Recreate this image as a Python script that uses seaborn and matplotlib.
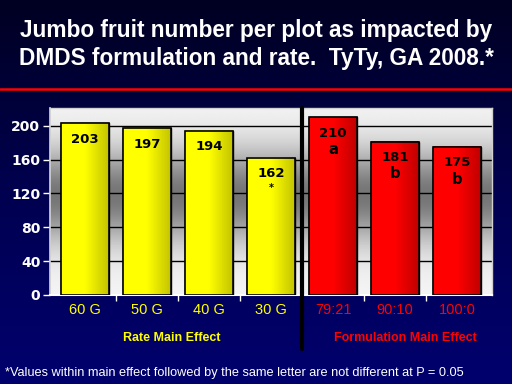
import numpy as np
import pandas as pd
import matplotlib
matplotlib.use("Agg")
import matplotlib.pyplot as plt
from matplotlib.colors import LinearSegmentedColormap
import seaborn as sns

# ---- data ----
categories = ["60 G", "50 G", "40 G", "30 G", "79:21", "90:10", "100:0"]
values = [203, 197, 194, 162, 210, 181, 175]
groups = ["Rate", "Rate", "Rate", "Rate", "Formulation", "Formulation", "Formulation"]
letters = ["", "", "", "*", "a", "b", "b"]
yticks = [0, 40, 80, 120, 160, 200]
title_lines = ["Jumbo fruit number per plot as impacted by",
               "DMDS formulation and rate.  TyTy, GA 2008.*"]
group_labels = ["Rate Main Effect", "Formulation Main Effect"]
footnote = "*Values within main effect followed by the same letter are not different at P = 0.05"

df = pd.DataFrame({"category": categories, "value": values, "group": groups})

sns.set_theme(style="white")
plt.rcParams["font.family"] = ["Liberation Sans", "DejaVu Sans"]

group_colors = {"Rate": "#FFFF00", "Formulation": "#FF0000"}
group_dark = {"Rate": "#C4C400", "Formulation": "#C00000"}

fig = plt.figure(figsize=(5.12, 3.84), dpi=100)

# figure background gradient
bg = fig.add_axes([0, 0, 1, 1], zorder=-10)
grad = np.linspace(0, 1, 256).reshape(-1, 1)
bg_cmap = LinearSegmentedColormap.from_list("bg", ["#000022", "#000050", "#00006E"])
bg.imshow(grad, aspect="auto", cmap=bg_cmap, extent=(0, 1, 0, 1), origin="upper")
bg.set_axis_off()
bg.plot([0, 1], [1 - 89 / 384, 1 - 89 / 384], color="#FF0000", lw=1.8)
bg.set_xlim(0, 1)
bg.set_ylim(0, 1)

ax = fig.add_axes([50 / 512, 1 - 295 / 384, 442 / 512, 187 / 384])
ymax = 221

# plot area gradient (light - grey - light)
yy = np.linspace(0, ymax, 300)
prof = 0.96 - 0.50 * np.exp(-((yy - 118) / 55) ** 2)
ax.imshow(prof.reshape(-1, 1), aspect="auto", cmap="gray", vmin=0, vmax=1,
          extent=(0, 1, 0, 1), origin="lower", transform=ax.transAxes, zorder=0)

for t in yticks[1:]:
    ax.axhline(t, color="black", lw=1, zorder=1)

sns.barplot(data=df, x="category", y="value", hue="group", palette=group_colors,
            dodge=False, width=0.77, edgecolor="black", linewidth=1,
            legend=False, ax=ax, zorder=3)

# 3D-ish shading on each bar
for p, g in zip(ax.patches, groups):
    x, w, h = p.get_x(), p.get_width(), p.get_height()
    cmap = LinearSegmentedColormap.from_list(
        "b", [group_colors[g], group_colors[g], group_dark[g]])
    ax.imshow(np.linspace(0, 1, 64).reshape(1, -1), aspect="auto", cmap=cmap,
              extent=(x, x + w, 0, h), zorder=3.5)
    ax.add_patch(plt.Rectangle((x, 0), w, h, fill=False, edgecolor="black",
                               lw=1.2, zorder=4))

ax.set_xlim(-0.56, len(categories) - 0.44)
ax.set_ylim(0, ymax)

# value labels and letters
for i, (v, l) in enumerate(zip(values, letters)):
    ax.text(i, v - 19, str(v), ha="center", va="center", color="black",
            fontsize=9.5, fontweight="bold", family="DejaVu Sans", zorder=5)
    if l:
        ax.text(i, v - 38 if l != "*" else v - 36, l, ha="center", va="center",
                color="black", fontsize=10.5 if l != "*" else 7,
                fontweight="bold", family="DejaVu Sans", zorder=5)

# axes styling
ax.set_xlabel("")
ax.set_ylabel("")
ax.set_yticks(yticks)
ax.set_yticklabels([str(t) for t in yticks], color="white", fontsize=10,
                   fontweight="bold", family="DejaVu Sans")
ax.tick_params(axis="y", length=5, color="white", width=1, pad=2, left=True)
ax.set_xticks(range(len(categories)))
ax.set_xticklabels(categories, fontsize=10.5)
for lab, g in zip(ax.get_xticklabels(), groups):
    lab.set_color(group_colors[g])
ax.tick_params(axis="x", length=0, pad=6)
ax.set_xticks(np.arange(len(categories) - 1) + 0.5, minor=True)
ax.tick_params(axis="x", which="minor", length=4, color="white", width=1,
               bottom=True)

for s in ["top", "right"]:
    ax.spines[s].set_color("#D0D0D0")
    ax.spines[s].set_linewidth(1)
ax.spines["left"].set_color("#D0D0D0")
ax.spines["bottom"].set_color("white")
ax.spines["bottom"].set_linewidth(1.5)

# divider line between the two groups
div_x = (len([g for g in groups if g == "Rate"]) - 0.5)
ax.plot([div_x, div_x], [1.0, -0.29], color="black", lw=3,
        transform=ax.get_xaxis_transform(), clip_on=False, zorder=6)

# titles and texts
fig.text(0.5, 1 - 31 / 384, title_lines[0], ha="center", va="center",
         color="white", fontsize=16.3, fontweight="bold")
fig.text(0.5, 1 - 59 / 384, title_lines[1], ha="center", va="center",
         color="white", fontsize=16.3, fontweight="bold")
fig.text(172 / 512, 1 - 338 / 384, group_labels[0], ha="center", va="center",
         color="#FFFF00", fontsize=9, fontweight="bold")
fig.text(405 / 512, 1 - 338 / 384, group_labels[1], ha="center", va="center",
         color="#FF0000", fontsize=9, fontweight="bold")
fig.text(5 / 512, 1 - 373 / 384, footnote, ha="left", va="center",
         color="white", fontsize=9.15)

fig.savefig("out.png", dpi=100)
